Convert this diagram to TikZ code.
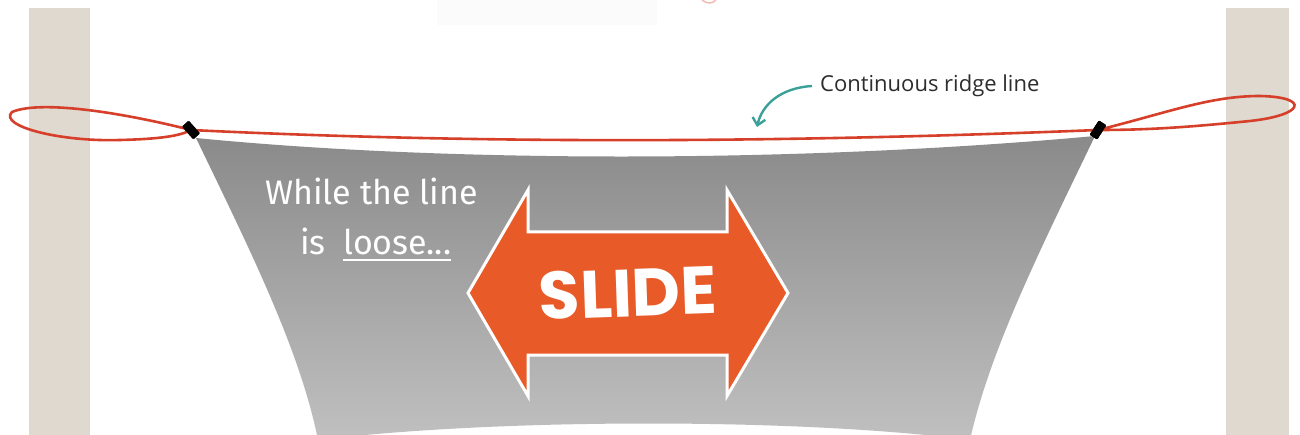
\documentclass[tikz,border=0pt]{standalone}
\usepackage{fontspec}
\setmainfont{Open Sans}
\newfontfamily\handfont{Fira Sans}
\newfontfamily\slidefont{Poppins}
\usetikzlibrary{arrows.meta}
\definecolor{post}{RGB}{224,217,208}
\definecolor{ridge}{RGB}{214,64,42}
\definecolor{tarptop}{RGB}{138,138,138}
\definecolor{tarpbot}{RGB}{192,192,192}
\definecolor{slideorange}{RGB}{232,90,40}
\definecolor{pointer}{RGB}{58,160,152}
\definecolor{labeltext}{RGB}{45,45,45}
\tikzset{
  ridgeline/.style={draw=ridge, line width=2.6pt, line cap=round},
  grommet/.style={fill=black, minimum width=17pt, minimum height=9pt, inner sep=0pt, rounded corners=1pt},
  handtext/.style={text=white, font=\handfont\fontsize{34}{38}\selectfont, inner sep=0pt},
  pointerarrow/.style={draw=pointer, line width=2.4pt, -{Straight Barb[length=7pt,width=13pt]}},
}
\begin{document}
\begin{tikzpicture}[x=1pt,y=-1pt]
\path[use as bounding box] (0,0) rectangle (1300,435);
\fill[white] (0,0) rectangle (1300,435);
% faint remnants at top
\fill[gray!3] (437,0) rectangle (657,25);
\draw[ridge!35, line width=1.5pt] (702,0) .. controls (707,4) and (712,4) .. (716,0);
% posts
\fill[post] (29,8) rectangle (90,435);
\fill[post] (1226,8) rectangle (1289,435);
% tarp
\shade[top color=tarptop, bottom color=tarpbot]
  (196,138) .. controls (450,163) and (800,163) .. (1095,136)
  .. controls (1040,250) and (990,350) .. (970,440)
  .. controls (800,418) and (500,418) .. (318,440)
  .. controls (300,350) and (250,250) .. (196,138) -- cycle;
% grommets
\node[grommet, rotate=-48] (gl) at (191,130) {};
\node[grommet, rotate=57] (gr) at (1098,130) {};
% ridge line with loops
\draw[ridgeline] (gl.center) .. controls (500,145) and (800,142) .. (gr.center);
\draw[ridgeline] (gl.center) .. controls (120,112) and (40,100) .. (12,112)
  .. controls (-2,126) and (60,142) .. (120,140)
  .. controls (160,139) and (180,136) .. (gl.center);
\draw[ridgeline] (gr.center) .. controls (1170,112) and (1210,96) .. (1260,96)
  .. controls (1310,97) and (1305,115) .. (1250,121)
  .. controls (1190,127) and (1150,130) .. (gr.center);
\node[grommet, rotate=-48] at (gl) {};
\node[grommet, rotate=57] at (gr) {};
% label and pointer
\node[anchor=west, inner sep=0pt, text=labeltext, font=\fontsize{22}{26}\selectfont] (lbl) at (820,86) {Continuous ridge line};
\coordinate (ridgept) at (757,127);
\draw[pointerarrow] ([xshift=-8pt]lbl.west) .. controls (780,88) and (762,105) .. (ridgept);
% hand text
\node[handtext, anchor=base west] (t1) at (265,205) {While the line};
\node[handtext, anchor=base west] (t2a) at (300,255) {is};
\node[handtext, anchor=base west] (t2b) at (343,255) {loose...};
\draw[white, line width=1.2pt] ([yshift=-5pt]t2b.base west) -- ([yshift=-5pt]t2b.base east);
% slide arrow
\draw[fill=slideorange, draw=white, line width=3pt, line join=miter]
  (468,293) -- (528,190) -- (528,232) -- (727,232) -- (727,190) -- (788,293)
  -- (727,396) -- (727,355) -- (528,355) -- (528,396) -- cycle;
\node[text=white, font=\slidefont\bfseries\fontsize{67}{67}\selectfont, rotate=2, inner sep=0pt] (slide) at (628,293) {SLIDE};
\end{tikzpicture}
\end{document}
